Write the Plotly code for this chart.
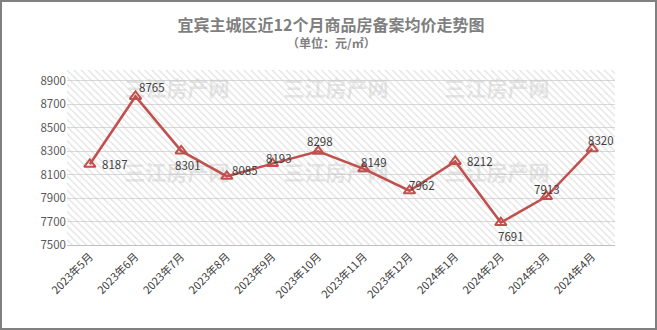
import plotly.graph_objects as go

months = ["2023年5月", "2023年6月", "2023年7月", "2023年8月", "2023年9月", "2023年10月",
          "2023年11月", "2023年12月", "2024年1月", "2024年2月", "2024年3月", "2024年4月"]
prices = [8187, 8765, 8301, 8085, 8193, 8298, 8149, 7962, 8212, 7691, 7913, 8320]
y_ticks = [7500, 7700, 7900, 8100, 8300, 8500, 8700, 8900]

# label offsets (pixels) relative to points
label_dx = [25, 16, 7, 18, 6, 2, 10, 12, 25, 10, 0, 9]
label_dy = [0, -9, 14, -6, -6, -10, -7, -6, 0, 13, -7, -9]

W, H = 657, 330
ML, MR, MT, MB = 67, 42, 70, 85
PW, PH = W - ML - MR, H - MT - MB
Y_MIN, Y_MAX = 7500, 8990
RED = "#c0504d"
TITLE_CX = 331

idx = list(range(len(months)))
x0, x1 = -0.5, len(months) - 0.5

fig = go.Figure()

# hatched plot background
fig.add_trace(go.Scatter(
    x=[x0, x1, x1, x0, x0], y=[Y_MIN, Y_MIN, Y_MAX, Y_MAX, Y_MIN],
    mode="none", fill="toself", fillcolor="rgba(0,0,0,0)",
    fillpattern=dict(shape="\\", fgcolor="#c4c4c4", bgcolor="rgba(0,0,0,0)", size=5, solidity=0.25),
    hoverinfo="skip", showlegend=False))

# watermarks
def px_to_x(px):
    return x0 + (px - ML) / PW * (x1 - x0)

def py_to_y(py):
    return Y_MIN + (MT + PH - py) / PH * (Y_MAX - Y_MIN)

wm_cols = [177, 336, 497]
wm_rows = [91, 175, 261]
wx, wy = [], []
for r in wm_rows:
    for c in wm_cols:
        wx.append(px_to_x(c))
        wy.append(py_to_y(r))
fig.add_trace(go.Scatter(
    x=wx, y=wy, mode="text", text=["<b>三江房产网</b>"] * len(wx),
    textfont=dict(size=21, color="rgba(200,200,200,0.45)", family="Noto Sans CJK SC"),
    cliponaxis=False, hoverinfo="skip", showlegend=False))

# main line
fig.add_trace(go.Scatter(
    x=idx, y=prices, mode="lines+markers",
    line=dict(color=RED, width=2.5),
    marker=dict(symbol="triangle-up-open", size=10, color=RED, line=dict(width=2, color=RED)),
    cliponaxis=False, showlegend=False))

annotations = []
for i, v in enumerate(prices):
    annotations.append(dict(
        x=i, y=v, xref="x", yref="y", text=str(v), showarrow=False,
        xshift=label_dx[i], yshift=-label_dy[i],
        font=dict(size=11.5, color="#404040", family="Noto Sans CJK SC")))

annotations.append(dict(
    x=(TITLE_CX - ML) / PW, xref="paper", y=1 + (MT - 43) / PH, yref="paper",
    xanchor="center", yanchor="middle",
    text="<b>（单位：元/㎡）</b>", showarrow=False,
    font=dict(size=12, color="#7f7f7f", family="Noto Sans CJK SC")))

fig.update_layout(
    width=W, height=H,
    margin=dict(l=ML, r=MR, t=MT, b=MB),
    paper_bgcolor="white", plot_bgcolor="white",
    title=dict(text="<b>宜宾主城区近12个月商品房备案均价走势图</b>",
               x=TITLE_CX / W, xanchor="center",
               y=1 - 25 / H, yanchor="middle",
               font=dict(size=16, color="#7f7f7f", family="Noto Sans CJK SC")),
    annotations=annotations,
    shapes=[dict(type="rect", xref="paper", yref="paper",
                 x0=(-ML + 1) / PW, x1=1 + (MR - 1) / PW,
                 y0=(-MB + 1) / PH, y1=1 + (MT - 1) / PH,
                 line=dict(color="#808080", width=2), layer="above")],
    xaxis=dict(range=[x0, x1], tickmode="array", tickvals=idx, ticktext=months,
               tickangle=-45, showgrid=False, zeroline=False,
               showline=True, linecolor="#bfbfbf", linewidth=1,
               tickfont=dict(size=11, color="#404040", family="Noto Sans CJK SC")),
    yaxis=dict(range=[Y_MIN, Y_MAX], tickmode="array", tickvals=y_ticks,
               showgrid=True, gridcolor="#d9d9d9", gridwidth=1, zeroline=False,
               tickfont=dict(size=11.5, color="#595959", family="Noto Sans CJK SC")),
)

fig.write_html("out.html")
